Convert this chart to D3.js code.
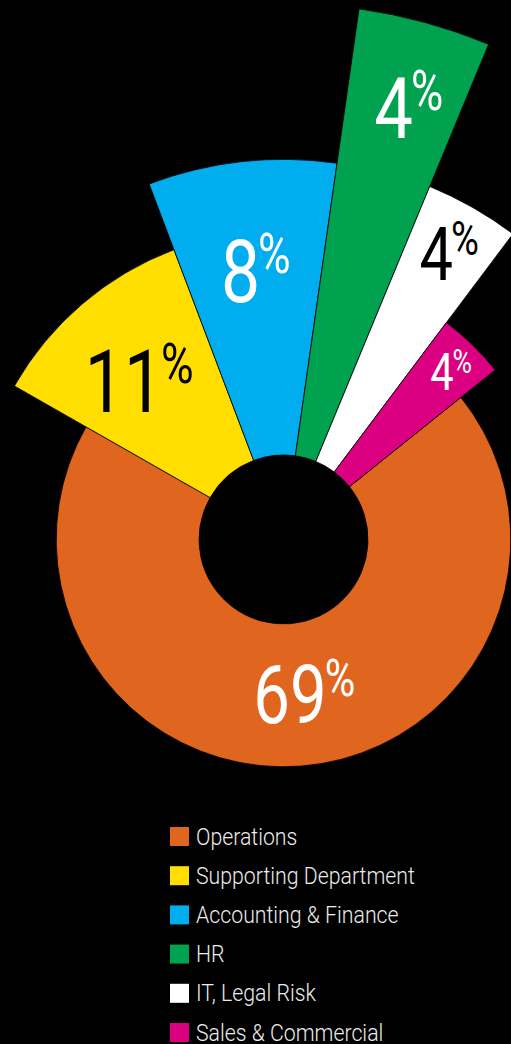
<!DOCTYPE html>
<html>
<head>
<meta charset="utf-8">
<script src="https://cdn.jsdelivr.net/npm/d3@7"></script>
<style>
  html, body { margin: 0; padding: 0; background: #000; }
  svg { display: block; }
</style>
</head>
<body>
<svg id="chart" width="511" height="1044"></svg>
<script>
// Headcount share by function, and each function's radial reach (% of the longest)
const categories = ["Operations", "Supporting Department", "Accounting & Finance", "HR", "IT, Legal Risk", "Sales & Commercial"];
const shares = [69, 11, 8, 4, 4, 4];
const reach = [42.4, 57.8, 70.9, 100, 71.3, 50.6];
const colors = ["#E0661F", "#FFDE00", "#00ADEF", "#00A14F", "#FFFFFF", "#DB0082"];
const labelInk = ["#FFFFFF", "#000000", "#FFFFFF", "#FFFFFF", "#000000", "#FFFFFF"];

// Label placement: nudge from slice mid-angle (degrees), position as fraction of outer radius, digit size
const labelShift = [2.1, -4.7, -2.8, -1, -1.6, -0.8];
const labelFrac = [0.681, 0.726, 0.716, 0.832, 0.848, 0.852];
const labelSize = [81.5, 87, 87, 86, 74.5, 52];

const W = 511, H = 1044;
const cx = 283.5, cy = 539.5;
const inner = 84.5;
const deg = Math.PI / 180;
const start = 51.3 * deg;
const condense = 0.8;
const fontFamily = "Roboto, 'Noto Sans', 'DejaVu Sans', sans-serif";

const svg = d3.select("#chart");
svg.append("rect").attr("width", W).attr("height", H).attr("fill", "#000");

const rScale = d3.scaleLinear().domain([0, 100]).range([0, 536]);

const rows = categories.map((name, i) => ({
  name, share: shares[i], reach: reach[i], color: colors[i], ink: labelInk[i], i
}));

const pie = d3.pie().sort(null).value(d => d.share)
  .startAngle(start).endAngle(start + 2 * Math.PI);
const arcs = pie(rows);

const arc = d3.arc()
  .innerRadius(inner)
  .outerRadius(d => rScale(d.data.reach));

const g = svg.append("g").attr("transform", `translate(${cx},${cy})`);

g.selectAll("path.slice")
  .data(arcs)
  .join("path")
  .attr("class", "slice")
  .attr("d", arc)
  .attr("fill", d => d.data.color)
  .attr("stroke", "#000")
  .attr("stroke-width", 0.8);

// Percentage labels: condensed digits with a raised, smaller % sign
const labels = g.selectAll("g.label")
  .data(arcs)
  .join("g")
  .attr("class", "label")
  .attr("transform", d => {
    const i = d.data.i;
    const a = (d.startAngle + d.endAngle) / 2 + labelShift[i] * deg;
    const r = rScale(d.data.reach) * labelFrac[i];
    const x = Math.sin(a) * r, y = -Math.cos(a) * r;
    return `translate(${x},${y}) scale(${condense},1)`;
  });

labels.each(function (d) {
  const i = d.data.i;
  const fs = labelSize[i];
  const sel = d3.select(this);
  const num = sel.append("text")
    .attr("text-anchor", "middle")
    .attr("y", fs * 0.355)
    .attr("font-family", fontFamily)
    .attr("font-size", fs)
    .attr("fill", d.data.ink)
    .text(d.data.share);
  const w = num.node().getComputedTextLength();
  sel.append("text")
    .attr("text-anchor", "start")
    .attr("x", w / 2 - fs * 0.03)
    .attr("y", fs * 0.355 - fs * 0.33)
    .attr("font-family", fontFamily)
    .attr("font-size", fs * 0.64)
    .attr("fill", d.data.ink)
    .text("%");
});

// Legend
const legendTop = 827, legendStep = 39.2;
const legend = svg.append("g");
const items = legend.selectAll("g.item")
  .data(rows)
  .join("g")
  .attr("class", "item")
  .attr("transform", (d, i) => `translate(170,${legendTop + i * legendStep})`);

items.append("rect")
  .attr("width", 19)
  .attr("height", 19)
  .attr("fill", d => d.color);

items.append("text")
  .attr("transform", "translate(26,17.5) scale(0.925,1)")
  .attr("font-family", fontFamily)
  .attr("font-weight", 300)
  .attr("font-size", 23)
  .attr("fill", "#ECECEC")
  .text(d => d.name);
</script>
</body>
</html>
